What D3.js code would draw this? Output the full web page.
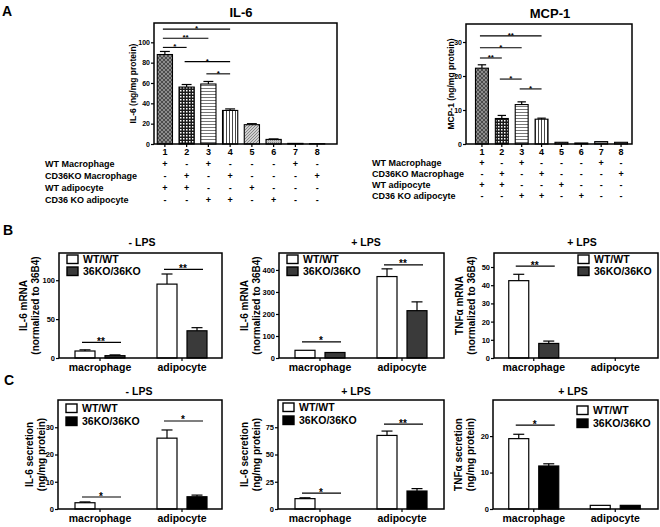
<!DOCTYPE html>
<html>
<head>
<meta charset="utf-8">
<script src="https://cdn.jsdelivr.net/npm/d3@7"></script>
<style>
body { margin: 0; background: #fff; }
svg { font-family: "Liberation Sans", Arial, sans-serif; font-weight: bold; }
</style>
</head>
<body>
<div id="fig"></div>
<script>

// ---- panel A : co-culture lanes
var lanes = ["1", "2", "3", "4", "5", "6", "7", "8"];
var il6Mean = [88, 56, 59, 33, 19, 4.5, 0.6, 0.3];
var il6Sem = [3, 2.5, 2.5, 1.5, 1, 0.5, 0, 0];
var mcp1Mean = [22.3, 7.5, 11.6, 7.3, 0.5, 0.3, 0.7, 0.5];
var mcp1Sem = [1, 0.9, 0.8, 0.3, 0, 0, 0, 0];
var il6Ticks = [0, 20, 40, 60, 80, 100];
var mcp1Ticks = [0, 10, 20, 30];
var condNames = ["WT Macrophage", "CD36KO  Macrophage", "WT  adipocyte", "CD36  KO adipocyte"];
var condSigns = [
  ["+", "-", "+", "-", "-", "-", "+", "-"],
  ["-", "+", "-", "+", "-", "-", "-", "+"],
  ["+", "+", "-", "-", "+", "-", "-", "-"],
  ["-", "-", "+", "+", "-", "+", "-", "-"]
];
// [from lane, to lane, height, label]
var il6Stars = [[1, 4, 113, "*"], [1, 3, 104, "**"], [1, 2, 95, "*"], [2, 4, 81, "*"], [3, 4, 69, "*"]];
var mcp1Stars = [[1, 4, 31.8, "**"], [1, 3, 28.3, "*"], [1, 2, 25.3, "**"], [2, 3, 19.1, "*"], [3, 4, 16.2, "*"]];

// ---- panels B, C : genotype comparison
var cells = ["macrophage", "adipocyte"];
var genotypes = ["WT/WT", "36KO/36KO"];

// rows = genotypes, columns = cells
var il6MrnaNoLps = [[9, 95], [3, 35]];
var il6MrnaNoLpsErr = [[1.5, 13], [1, 4]];
var il6MrnaLps = [[35, 370], [25, 215]];
var il6MrnaLpsErr = [[2, 35], [2, 40]];
var tnfMrnaLps = [[42.5, 0], [8, 0]];
var tnfMrnaLpsErr = [[3.5, 0], [1.3, 0]];

var il6SecNoLps = [[2.3, 26], [0, 4.5]];
var il6SecNoLpsErr = [[0.3, 3], [0, 0.6]];
var il6SecLps = [[9.5, 67.5], [0, 16.5]];
var il6SecLpsErr = [[0.8, 4], [0, 2.2]];
var tnfSecLps = [[19.3, 1.0], [11.8, 1.0]];
var tnfSecLpsErr = [[1.2, 0], [0.6, 0]];

var il6MrnaNoLpsTicks = [0, 50, 100];
var il6MrnaLpsTicks = [0, 100, 200, 300, 400];
var tnfMrnaLpsTicks = [0, 10, 20, 30, 40, 50];
var il6SecNoLpsTicks = [0, 10, 20, 30];
var il6SecLpsTicks = [0, 25, 50, 75];
var tnfSecLpsTicks = [0, 10, 20];

// [cell index, height, label]
var il6MrnaNoLpsStars = [[0, 20, "**"], [1, 114, "**"]];
var il6MrnaLpsStars = [[0, 73, "*"], [1, 423, "**"]];
var tnfMrnaLpsStars = [[0, 50.5, "**"]];
var il6SecNoLpsStars = [[0, 4.4, "*"], [1, 32.3, "*"]];
var il6SecLpsStars = [[0, 14.6, "*"], [1, 77.8, "**"]];
var tnfSecLpsStars = [[0, 23, "*"]];


var width = 660, height = 527;

var svg = d3.select("#fig").append("svg")
    .attr("width", width)
    .attr("height", height);

var defs = svg.append("defs");

function pattern(id, size, bg) {
  var p = defs.append("pattern")
      .attr("id", id)
      .attr("patternUnits", "userSpaceOnUse")
      .attr("width", size).attr("height", size);
  p.append("rect").attr("width", size).attr("height", size).attr("fill", bg);
  return p;
}

pattern("p1", 4, "#8c8c8c").append("path").attr("d", "M0,0L4,4M4,0L0,4")
    .attr("stroke", "#3a3a3a").attr("stroke-width", 0.8);
pattern("p2", 3, "#1a1a1a").append("rect").attr("width", 1.5).attr("height", 1.5).attr("fill", "#fff");
pattern("p3", 3, "#fff").append("path").attr("d", "M0,1.5H3")
    .attr("stroke", "#777").attr("stroke-width", 1);
pattern("p4", 3, "#fff").append("path").attr("d", "M1.5,0V3")
    .attr("stroke", "#333").attr("stroke-width", 0.9);
pattern("p5", 3, "#cfcfcf").append("path").attr("d", "M0,3L3,0M-1,1L1,-1M2,4L4,2")
    .attr("stroke", "#666").attr("stroke-width", 0.7);
pattern("p6", 2, "#c4c4c4").append("rect").attr("width", 1).attr("height", 1).attr("fill", "#888");

var laneFill = ["url(#p1)", "url(#p2)", "url(#p3)", "url(#p4)", "url(#p5)", "url(#p6)", "#999", "#aaa"];


function text(x, y, str, size, anchor) {
  return svg.append("text")
      .attr("x", x).attr("y", y)
      .attr("font-size", size)
      .attr("text-anchor", anchor || "start")
      .text(str);
}

function styleAxis(g, size) {
  g.select(".domain").remove();
  g.selectAll("line").attr("stroke", "#000").attr("stroke-width", 1.2);
  g.selectAll("text").attr("font-size", size).attr("font-weight", "bold")
      .attr("font-family", "Liberation Sans, Arial, sans-serif").attr("fill", "#000");
}

function errBar(g, cx, yTop, yErr, cap) {
  if (yTop - yErr < 0.5) return;
  g.append("line").attr("x1", cx).attr("x2", cx).attr("y1", yTop).attr("y2", yErr)
      .attr("stroke", "#000").attr("stroke-width", 1.2);
  g.append("line").attr("x1", cx - cap / 2).attr("x2", cx + cap / 2).attr("y1", yErr).attr("y2", yErr)
      .attr("stroke", "#000").attr("stroke-width", 1.2);
}

// panel A helper
function lanePanel(p) {
  var g = svg.append("g");
  var x = d3.scaleBand().domain(lanes).range([p.bx0, p.bx1])
      .paddingInner(p.pad).paddingOuter(p.pad / 2);
  var y = d3.scaleLinear().domain([0, p.ymax]).range([p.yb, p.yt]);

  g.selectAll("rect.bar").data(p.mean).enter().append("rect")
      .attr("x", function(d, i) { return x(lanes[i]); })
      .attr("y", function(d) { return y(d); })
      .attr("width", x.bandwidth())
      .attr("height", function(d) { return p.yb - y(d); })
      .attr("fill", function(d, i) { return laneFill[i]; })
      .attr("stroke", "#000").attr("stroke-width", 1.1);

  p.mean.forEach(function(d, i) {
    if (p.sem[i] > 0)
      errBar(g, x(lanes[i]) + x.bandwidth() / 2, y(d), y(d + p.sem[i]), x.bandwidth() * 0.65);
  });

  g.append("rect").attr("x", p.fx0).attr("y", p.yt)
      .attr("width", p.fx1 - p.fx0).attr("height", p.yb - p.yt)
      .attr("fill", "none").attr("stroke", "#000").attr("stroke-width", 1.5);

  var ya = g.append("g").attr("transform", "translate(" + p.fx0 + ",0)")
      .call(d3.axisLeft(y).tickValues(p.ticks).tickSize(3).tickPadding(1));
  styleAxis(ya, 7);
  var xa = g.append("g").attr("transform", "translate(0," + p.yb + ")")
      .call(d3.axisBottom(x).tickSize(3).tickPadding(2));
  styleAxis(xa, 9);

  p.stars.forEach(function(s) {
    var x1 = x(lanes[s[0] - 1]) + x.bandwidth() / 2 - 2,
        x2 = x(lanes[s[1] - 1]) + x.bandwidth() / 2;
    g.append("line").attr("x1", x1).attr("x2", x2).attr("y1", y(s[2])).attr("y2", y(s[2]))
        .attr("stroke", "#000").attr("stroke-width", 1.1);
    text((x1 + x2) / 2, y(s[2]) + 2, s[3], 8, "middle");
  });

  text(p.titleX, p.titleY, p.title, 13, "middle");
  svg.append("text").attr("font-size", 8.5).attr("text-anchor", "middle")
      .attr("transform", "translate(" + p.ylabX + "," + ((p.yt + p.yb) / 2) + ") rotate(-90)")
      .text(p.ylab);

  condNames.forEach(function(name, r) {
    text(p.rowX, p.rowY[r], name, 9);
    condSigns[r].forEach(function(s, i) {
      text(x(lanes[i]) + x.bandwidth() / 2, p.rowY[r], s, 9, "middle");
    });
  });
}

lanePanel({
  mean: il6Mean, sem: il6Sem, ticks: il6Ticks, stars: il6Stars, ymax: 119,
  fx0: 154, fx1: 337, bx0: 154, bx1: 328, pad: 0.3, yt: 23, yb: 144,
  title: "IL-6", titleX: 241, titleY: 17,
  ylab: "IL-6 (ng/mg protein)", ylabX: 136,
  rowX: 45, rowY: [167, 179, 191, 203]
});

lanePanel({
  mean: mcp1Mean, sem: mcp1Sem, ticks: mcp1Ticks, stars: mcp1Stars, ymax: 35.3,
  fx0: 466, fx1: 632, bx0: 472, bx1: 631, pad: 0.35, yt: 24, yb: 144,
  title: "MCP-1", titleX: 550, titleY: 18,
  ylab: "MCP-1 (ng/mg protein)", ylabX: 454,
  rowX: 372, rowY: [166, 177, 188, 199]
});


// panels B and C helper
function genoPanel(p) {
  var g = svg.append("g");
  var x = d3.scaleBand().domain(cells).range([p.bx0, p.bx1]);
  var sub = d3.scaleBand().domain(genotypes).range([-25, 25]).paddingInner(1 / 3);
  var y = d3.scaleLinear().domain([0, p.ymax]).range([p.yb, p.yt]);
  var fills = ["#fff", p.koFill];

  p.mean.forEach(function(row, gi) {
    g.selectAll(null).data(row).enter().append("rect")
        .attr("x", function(d, ci) { return x(cells[ci]) + x.bandwidth() / 2 + sub(genotypes[gi]); })
        .attr("y", function(d) { return y(d); })
        .attr("width", sub.bandwidth())
        .attr("height", function(d) { return p.yb - y(d); })
        .attr("fill", fills[gi])
        .attr("stroke", "#000")
        .attr("stroke-width", function(d) { return d > 0 ? 1.2 : 0; });
    row.forEach(function(d, ci) {
      var cx = x(cells[ci]) + x.bandwidth() / 2 + sub(genotypes[gi]) + sub.bandwidth() / 2;
      if (p.err[gi][ci] > 0) errBar(g, cx, y(d), y(d + p.err[gi][ci]), 11);
    });
  });

  g.append("rect").attr("x", p.fx0).attr("y", p.yt)
      .attr("width", p.fx1 - p.fx0).attr("height", p.yb - p.yt)
      .attr("fill", "none").attr("stroke", "#000").attr("stroke-width", 1.5);

  var ya = g.append("g").attr("transform", "translate(" + p.fx0 + ",0)")
      .call(d3.axisLeft(y).tickValues(p.ticks).tickSize(3).tickPadding(1));
  styleAxis(ya, 7.5);
  var xa = g.append("g").attr("transform", "translate(0," + p.yb + ")")
      .call(d3.axisBottom(x).tickSize(3).tickPadding(3));
  styleAxis(xa, 10.5);

  p.stars.forEach(function(s) {
    var c = x(cells[s[0]]) + x.bandwidth() / 2;
    g.append("line").attr("x1", c - 18).attr("x2", c + 21).attr("y1", y(s[1])).attr("y2", y(s[1]))
        .attr("stroke", "#000").attr("stroke-width", 1.2);
    text(c + 1, y(s[1]) + 2.5, s[2], 10, "middle");
  });

  genotypes.forEach(function(name, gi) {
    var ly = p.legY + gi * p.legStep;
    g.append("rect").attr("x", p.legX).attr("y", ly - 4)
        .attr("width", 11).attr("height", 8.5)
        .attr("fill", fills[gi]).attr("stroke", "#000").attr("stroke-width", 1.4);
    text(p.legX + 16, ly + 4, name, 10.5);
  });

  text(p.titleX, p.titleY, p.title, 10.5, "middle");
  p.ylab.forEach(function(line, k) {
    svg.append("text").attr("font-size", 10).attr("text-anchor", "middle")
        .attr("transform", "translate(" + p.ylabX[k] + "," + ((p.yt + p.yb) / 2) + ") rotate(-90)")
        .text(line);
  });
}

var bRow = { yt: 253, yb: 358, koFill: "#3a3a3a", titleY: 246, legStep: 12 };
var cRow = { yt: 400, yb: 509, koFill: "#000", titleY: 395, legStep: 13 };

function row(base, extra) { return Object.assign({}, base, extra); }

genoPanel(row(bRow, {
  mean: il6MrnaNoLps, err: il6MrnaNoLpsErr, ticks: il6MrnaNoLpsTicks, stars: il6MrnaNoLpsStars, ymax: 135,
  fx0: 59, fx1: 222, bx0: 59, bx1: 223, title: "- LPS", titleX: 142,
  legX: 67, legY: 259, ylab: ["IL-6 mRNA", "(normalized to 36B4)"], ylabX: [27, 39]
}));
genoPanel(row(bRow, {
  mean: il6MrnaLps, err: il6MrnaLpsErr, ticks: il6MrnaLpsTicks, stars: il6MrnaLpsStars, ymax: 477,
  fx0: 279, fx1: 444, bx0: 279, bx1: 443, title: "+ LPS", titleX: 366,
  legX: 287, legY: 259, ylab: ["IL-6 mRNA", "(normalized to 36B4)"], ylabX: [248, 260]
}));
genoPanel(row(bRow, {
  mean: tnfMrnaLps, err: tnfMrnaLpsErr, ticks: tnfMrnaLpsTicks, stars: tnfMrnaLpsStars, ymax: 57.7,
  fx0: 494, fx1: 658, bx0: 493, bx1: 656, title: "+ LPS", titleX: 582,
  legX: 578, legY: 259, ylab: ["TNFα mRNA", "(normalized to 36B4)"], ylabX: [463, 475]
}));

genoPanel(row(cRow, {
  mean: il6SecNoLps, err: il6SecNoLpsErr, ticks: il6SecNoLpsTicks, stars: il6SecNoLpsStars, ymax: 40,
  fx0: 58, fx1: 222, bx0: 59, bx1: 223, title: "- LPS", titleX: 139,
  legX: 66, legY: 408, ylab: ["IL-6 secretion", "(ng/mg protein)"], ylabX: [33, 45]
}));
genoPanel(row(cRow, {
  mean: il6SecLps, err: il6SecLpsErr, ticks: il6SecLpsTicks, stars: il6SecLpsStars, ymax: 100,
  fx0: 278, fx1: 444, bx0: 279, bx1: 443, title: "+ LPS", titleX: 356,
  legX: 283, legY: 407, ylab: ["IL-6 secretion", "(ng/mg protein)"], ylabX: [248, 260]
}));
genoPanel(row(cRow, {
  mean: tnfSecLps, err: tnfSecLpsErr, ticks: tnfSecLpsTicks, stars: tnfSecLpsStars, ymax: 29.9,
  fx0: 493, fx1: 658, bx0: 493, bx1: 656, title: "+ LPS", titleX: 573,
  legX: 577, legY: 410, ylab: ["TNFα secretion", "(ng/mg protein)"], ylabX: [462, 474]
}));

// panel letters
text(2, 16, "A", 14);
text(3, 235, "B", 14);
text(4, 385, "C", 14);

</script>
</body>
</html>
